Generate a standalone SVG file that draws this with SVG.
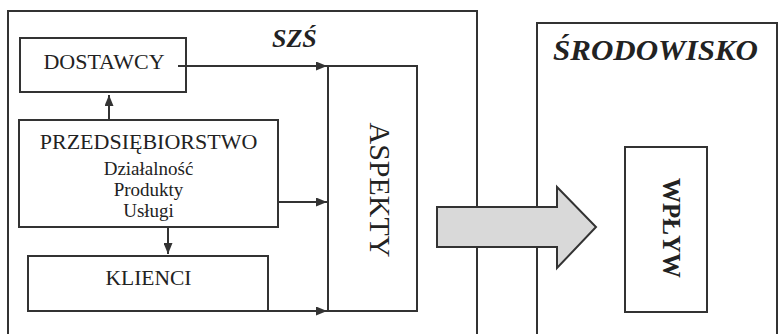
<svg xmlns="http://www.w3.org/2000/svg" width="778" height="334" viewBox="0 0 778 334">
<style>
  .box{fill:none;stroke:#333;stroke-width:2}
  .ln{fill:none;stroke:#333;stroke-width:2}
  .t{font-family:"Liberation Serif","Times New Roman",serif;fill:#222;text-anchor:middle}
  .ttl{font-family:"Liberation Serif","Times New Roman",serif;fill:#222;font-weight:bold;font-style:italic}
</style>
<defs>
  <marker id="ah" viewBox="0 0 11 9" refX="11" refY="4.5" markerWidth="11" markerHeight="9" markerUnits="userSpaceOnUse" orient="auto">
    <path d="M0,0 L11,4.5 L0,9 Z" fill="#333"/>
  </marker>
</defs>
<rect width="778" height="334" fill="#fff"/>

<g id="szs">
  <path class="box" d="M8,334 V11 H477 V334"/>
  <text class="ttl" x="272" y="47" font-size="26">SZŚ</text>
</g>
<g id="srodowisko">
  <path class="box" d="M537,334 V23 H777 V334"/>
  <text class="ttl" x="553" y="60" font-size="29" textLength="205" lengthAdjust="spacingAndGlyphs">ŚRODOWISKO</text>
</g>

<g id="dostawcy">
  <rect class="box" x="20" y="38" width="166" height="54"/>
  <text class="t" x="104" y="69" font-size="22">DOSTAWCY</text>
</g>
<g id="przedsiebiorstwo">
  <rect class="box" x="19" y="120" width="259" height="107"/>
  <text class="t" x="148.5" y="149" font-size="22">PRZEDSIĘBIORSTWO</text>
  <text class="t" x="148.5" y="175" font-size="19">Działalność</text>
  <text class="t" x="148.5" y="196" font-size="19">Produkty</text>
  <text class="t" x="148.5" y="217" font-size="19">Usługi</text>
</g>
<g id="klienci">
  <rect class="box" x="28" y="256" width="240" height="55"/>
  <text class="t" x="148.5" y="285" font-size="21.5">KLIENCI</text>
</g>
<g id="aspekty">
  <rect class="box" x="328" y="66" width="89" height="245"/>
  <text class="t" transform="translate(370,190) rotate(90)" font-size="30">ASPEKTY</text>
</g>
<g id="wplyw">
  <rect class="box" x="625" y="147" width="82" height="165"/>
  <text class="t" transform="translate(663,228) rotate(90)" font-size="25" font-weight="bold">WPŁYW</text>
</g>

<g id="connectors">
  <line class="ln" x1="109" y1="120" x2="109" y2="95" marker-end="url(#ah)"/>
  <line class="ln" x1="168" y1="227" x2="168" y2="254" marker-end="url(#ah)"/>
  <line class="ln" x1="178" y1="66" x2="327" y2="66" marker-end="url(#ah)"/>
  <line class="ln" x1="278" y1="202" x2="327" y2="202" marker-end="url(#ah)"/>
  <line class="ln" x1="268" y1="311" x2="327" y2="311" marker-end="url(#ah)"/>
</g>

<g id="wplyw-arrow">
  <polygon points="437,207 557,207 557,187 596,227 557,268 557,247 437,247" fill="#d9d9d9" stroke="#333" stroke-width="2" stroke-linejoin="miter"/>
</g>
</svg>
